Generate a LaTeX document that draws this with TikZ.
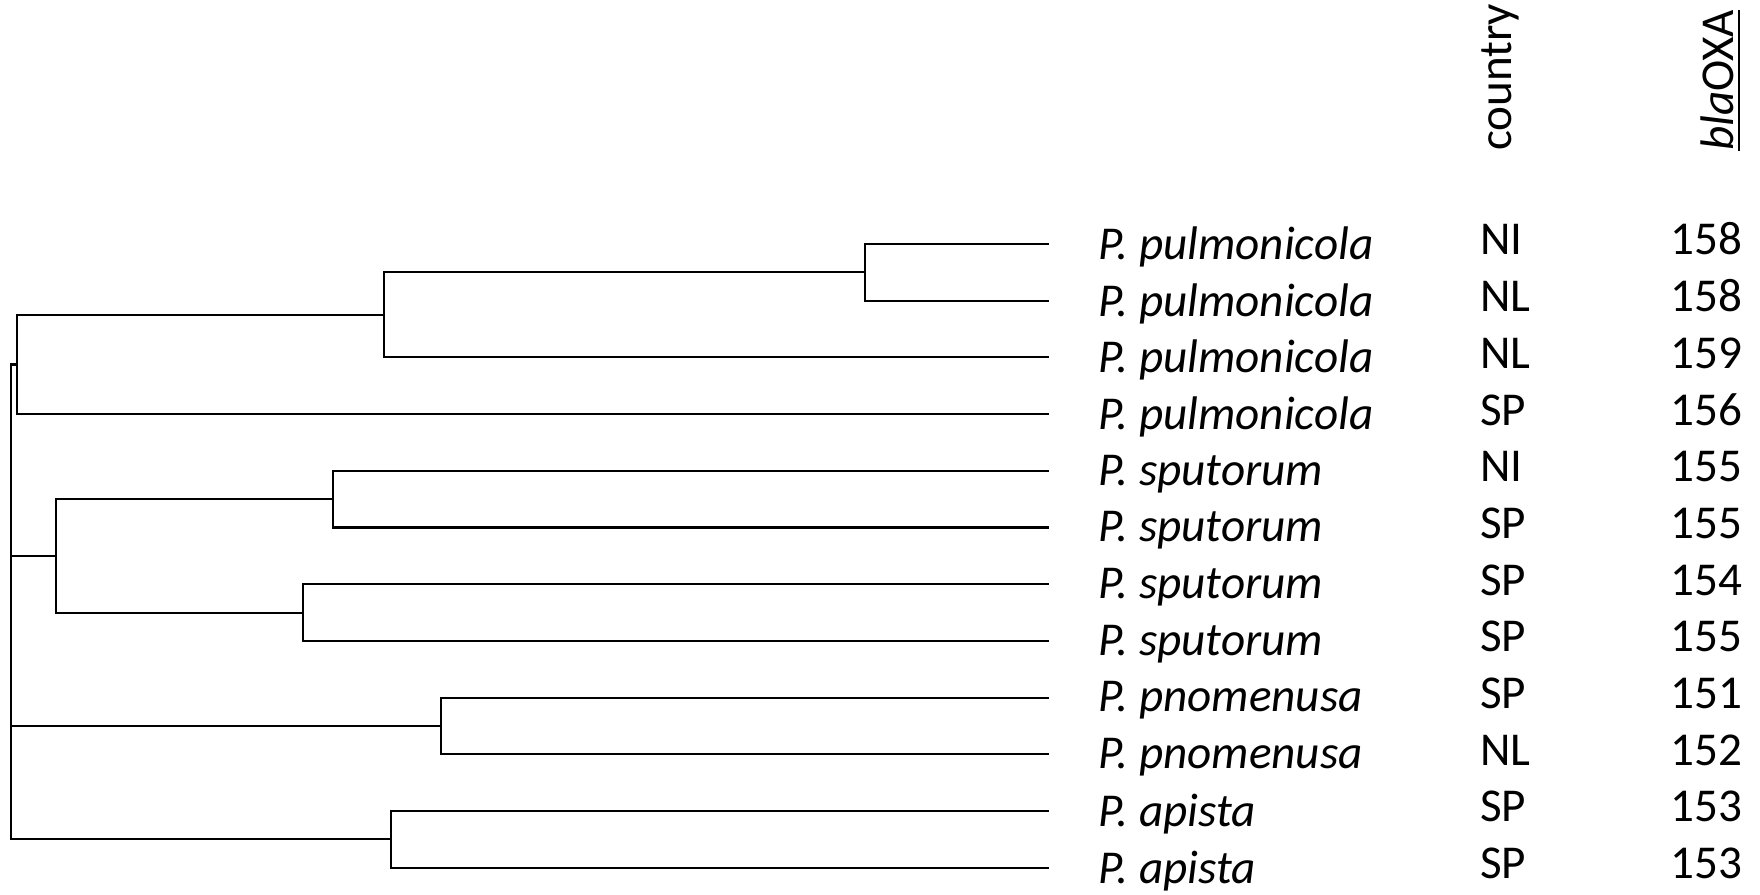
\documentclass[tikz,border=0pt]{standalone}
\usepackage{fontspec}
\setmainfont{Carlito}
\usetikzlibrary{positioning}

\begin{document}
\begin{tikzpicture}[x=0.01cm, y=-0.01cm, line width=0.6pt,
    font=\fontsize{13.4}{16}\selectfont,
    lbl/.style={inner sep=0pt, anchor=base west},
    num/.style={inner sep=0pt, anchor=base east},
    head/.style={inner sep=0pt, rotate=90, anchor=west}]
  \useasboundingbox (0,0) rectangle (1760,895);
  %leaves and their columns
  \foreach \i/\sp/\cc/\oxa in {1/pulmonicola/NI/158, 2/pulmonicola/NL/158,
      3/pulmonicola/NL/159, 4/pulmonicola/SP/156, 5/sputorum/NI/155,
      6/sputorum/SP/155, 7/sputorum/SP/154, 8/sputorum/SP/155,
      9/pnomenusa/SP/151, 10/pnomenusa/NL/152, 11/apista/SP/153,
      12/apista/SP/153} {
    \coordinate (l\i) at (1049, {244+(\i-1)*56.7});
    \node[lbl, right=48 of l\i, anchor=west, yshift=-0.03cm] (sp\i) {\textit{P. \sp}};
    \node[lbl] (cc\i) at (1479, {255+(\i-1)*56.7}) {\cc};
    \node[num] (ox\i) at (1743, {255+(\i-1)*56.7}) {\oxa};
  }
  %headers
  \node[head] (country) at (1500,152) {country};
  \node[head] (oxa) at (1721,152) {\underline{\textit{bla}OXA}};
  %inner nodes
  \coordinate (n12) at (865,272.4);
  \coordinate (n123) at (384,314.9);
  \coordinate (nA) at (17,364.5);
  \coordinate (n56) at (333,499.2);
  \coordinate (n78) at (303,612.6);
  \coordinate (nB) at (56,555.9);
  \coordinate (n910) at (441,726);
  \coordinate (n1112) at (391,839.4);
  \coordinate (root) at (11,600);
  %branches
  \draw (n12) |- (l1) (n12) |- (l2);
  \draw (n123) |- (n12) (n123) |- (l3);
  \draw (nA) |- (n123) (nA) |- (l4);
  \draw (n56) |- (l5) (n56) |- (l6);
  \draw (n78) |- (l7) (n78) |- (l8);
  \draw (nB) |- (n56) (nB) |- (n78);
  \draw (n910) |- (l9) (n910) |- (l10);
  \draw (n1112) |- (l11) (n1112) |- (l12);
  \draw (root) |- (nA) (root) |- (nB) (root) |- (n910) (root) |- (n1112);
\end{tikzpicture}
\end{document}
